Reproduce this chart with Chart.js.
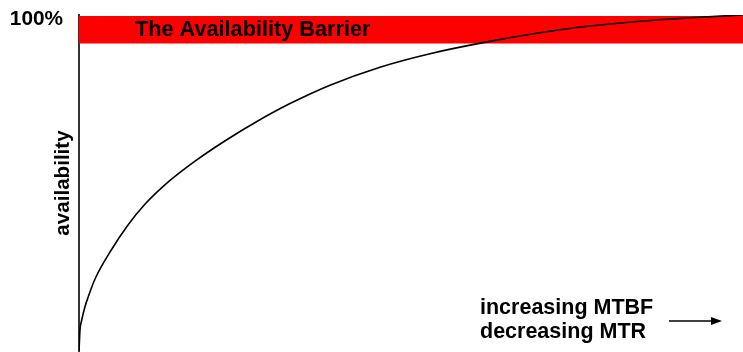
<!DOCTYPE html>
<html>
<head>
<meta charset="utf-8">
<script src="https://cdn.jsdelivr.net/npm/chart.js@4"></script>
<style>
  html, body { margin: 0; padding: 0; background: #fff; }
  #wrap { width: 743px; height: 352px; }
</style>
</head>
<body>
<div id="wrap"><canvas id="c" width="743" height="352"></canvas></div>
<script>
// Availability (%) against MTBF / MTR improvement (relative units 0..100)
const improvement = [0, 0.15, 0.41, 0.90, 1.40, 2.41, 4.86, 7.38, 9.89, 13.40, 17.42, 21.84, 26.66, 31.78, 37.80, 45.33, 52.86, 61.90, 72.44, 78.46, 84.49, 92.02, 100];
const availability = [0, 6.25, 9.23, 13.18, 16.16, 21.43, 30.06, 37.51, 43.58, 50.24, 56.43, 62.36, 68.17, 73.64, 79.11, 84.47, 88.49, 92.15, 95.59, 97.01, 98.15, 99.19, 100];

// Barrier band limits (availability %)
const barrierLow = 91.5;
const barrierHigh = 99.7;

// Tick labels
const yTickValues = [100];
const yTickLabels = ['100%'];

const FONT = '"Liberation Sans", Arial, sans-serif';

const curve = improvement.map((x, i) => ({ x, y: availability[i] }));
const band = [{ x: 0, y: barrierLow }, { x: 100, y: barrierLow }];

const annotations = {
  id: 'annotations',
  afterDatasetsDraw(chart) {
    const ctx = chart.ctx;
    ctx.save();
    ctx.fillStyle = '#000';
    ctx.textAlign = 'left';
    ctx.textBaseline = 'alphabetic';
    ctx.font = 'bold 21.7px ' + FONT;
    ctx.fillText('The Availability Barrier', 135, 36);
    ctx.font = 'bold 21.5px ' + FONT;
    ctx.fillText('increasing MTBF', 480, 314);
    ctx.fillText('decreasing MTR', 480, 338);
    // arrow
    ctx.strokeStyle = '#000';
    ctx.lineWidth = 1.5;
    ctx.beginPath();
    ctx.moveTo(669, 321);
    ctx.lineTo(714, 321);
    ctx.stroke();
    ctx.beginPath();
    ctx.moveTo(722, 321);
    ctx.lineTo(711, 317);
    ctx.lineTo(711, 325);
    ctx.closePath();
    ctx.fill();
    ctx.restore();
  }
};

new Chart(document.getElementById('c'), {
  type: 'line',
  data: {
    datasets: [
      {
        label: 'curve',
        data: curve,
        borderColor: '#000',
        borderWidth: 1.6,
        pointRadius: 0,
        cubicInterpolationMode: 'monotone',
        fill: false,
        order: 0
      },
      {
        label: 'barrier',
        data: band,
        borderWidth: 0,
        borderColor: 'rgba(0,0,0,0)',
        backgroundColor: '#ff0000',
        pointRadius: 0,
        fill: { value: barrierHigh },
        order: 1
      }
    ]
  },
  options: {
    responsive: false,
    animation: false,
    events: [],
    layout: { padding: { top: 15, right: 0, bottom: 1, left: 0 } },
    plugins: {
      legend: { display: false },
      tooltip: { enabled: false },
      filler: { drawTime: 'beforeDatasetsDraw' }
    },
    scales: {
      x: {
        type: 'linear',
        min: 0,
        max: 100,
        display: false
      },
      y: {
        type: 'linear',
        min: 0,
        max: 100,
        grid: { display: false, drawTicks: false, tickLength: 0 },
        border: { display: true, color: '#333', width: 2 },
        afterBuildTicks(scale) {
          scale.ticks = yTickValues.map(v => ({ value: v }));
        },
        afterFit(scale) {
          scale.width = 79;
          scale.paddingTop = 0;
          scale.paddingBottom = 0;
        },
        ticks: {
          padding: 16,
          labelOffset: 4,
          color: '#000',
          font: { family: FONT, size: 20.8, weight: 'bold' },
          callback(value) {
            const i = yTickValues.indexOf(value);
            return i >= 0 ? yTickLabels[i] : '';
          }
        },
        title: {
          display: true,
          text: 'availability',
          color: '#000',
          font: { family: FONT, size: 20.6, weight: 'bold', lineHeight: 1.2 },
          padding: { top: 51, bottom: 0 }
        }
      }
    }
  },
  plugins: [annotations]
});
</script>
</body>
</html>
